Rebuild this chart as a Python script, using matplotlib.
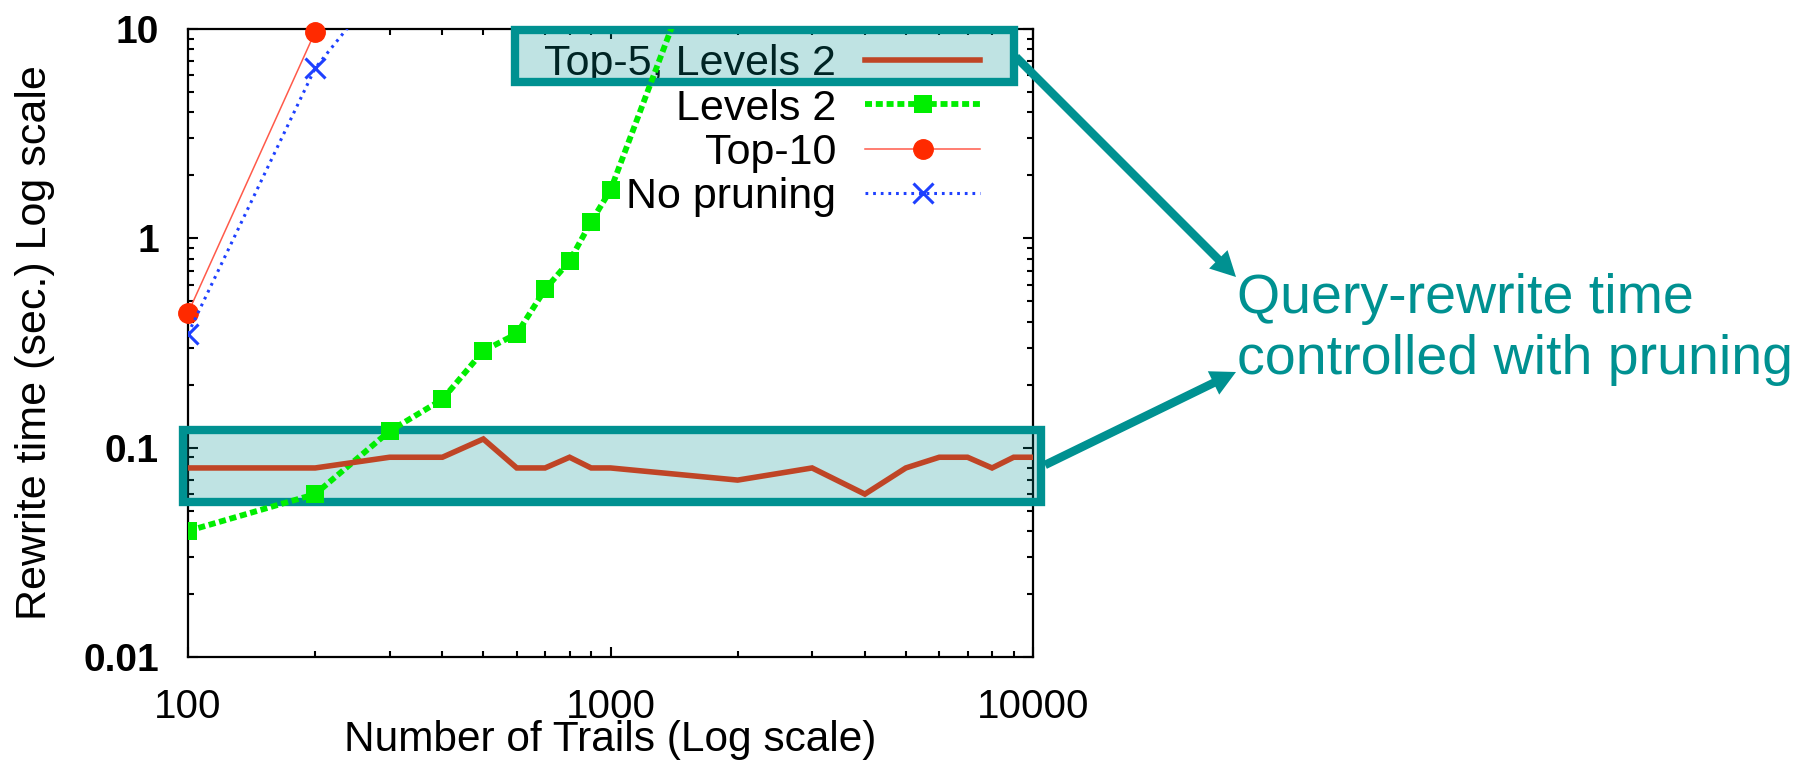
import matplotlib
matplotlib.use("Agg")
import matplotlib.pyplot as plt
import matplotlib.patches as mpatches
from matplotlib.lines import Line2D
from matplotlib.ticker import FixedLocator, FixedFormatter, LogLocator, NullFormatter

# ---- data -------------------------------------------------------------
trails = [100, 200, 300, 400, 500, 600, 700, 800, 900, 1000,
          2000, 3000, 4000, 5000, 6000, 7000, 8000, 9000, 10000]
top5_levels2 = [0.08, 0.08, 0.09, 0.09, 0.11, 0.08, 0.08, 0.09, 0.08, 0.08,
                0.07, 0.08, 0.06, 0.08, 0.09, 0.09, 0.08, 0.09, 0.09]

levels2_trails = [100, 200, 300, 400, 500, 600, 700, 800, 900, 1000, 2000]
levels2 = [0.04, 0.06, 0.12, 0.17, 0.29, 0.35, 0.57, 0.78, 1.2, 1.7, 70]

top10_trails = [100, 200]
top10 = [0.44, 9.7]

nopruning_trails = [100, 200, 300]
nopruning = [0.35, 6.5, 18]

series_labels = ["Top-5, Levels 2", "Levels 2", "Top-10", "No pruning"]
xticks = [100, 1000, 10000]
xtick_labels = ["100", "1000", "10000"]
yticks = [0.01, 0.1, 1, 10]
ytick_labels = ["0.01", "0.1", "1", "10"]
xlabel = "Number of Trails (Log scale)"
ylabel = "Rewrite time (sec.) Log scale"
note_lines = ["Query-rewrite time", "controlled with pruning"]

# ---- styling -----------------------------------------------------------
W, H, DPI = 1804, 761, 100
TEAL = "#009191"
plt.rcParams["font.family"] = ["Liberation Sans", "DejaVu Sans"]

styles = [
    dict(color="#BF4526", lw=4.0, solid_joinstyle="miter"),
    dict(color="#00EE00", lw=4.2, dashes=(1.2, 0.65), marker="s", ms=13, mew=0),
    dict(color="#FF5A4A", lw=1.1, marker="o", ms=14, mfc="#FF2A00", mec="#FF2A00"),
    dict(color="#1E40FF", lw=2.2, dashes=(0.9, 1.6), marker="x", ms=15, mew=2.2),
]


def fx(px):
    return px / W


def fy(py):
    return 1 - py / H


def inch_box(x0, y0, x1, y1):
    """pixel box (origin top-left) -> (xy, w, h) in inches"""
    return (x0 / DPI, (H - y1) / DPI), (x1 - x0) / DPI, (y1 - y0) / DPI


def inch_pt(x, y):
    return x / DPI, (H - y) / DPI


fig = plt.figure(figsize=(W / DPI, H / DPI), dpi=DPI)
ax = fig.add_axes([fx(188), fy(657), fx(1033) - fx(188), fy(29) - fy(657)])

ax.set_xscale("log")
ax.set_yscale("log")
ax.set_xlim(100, 10000)
ax.set_ylim(0.01, 10)

ax.plot(trails, top5_levels2, label=series_labels[0], zorder=8, **styles[0])
ax.plot(levels2_trails, levels2, label=series_labels[1], zorder=7, **styles[1])
ax.plot(top10_trails, top10, label=series_labels[2], zorder=7, clip_on=False,
        **styles[2])
ax.plot(nopruning_trails, nopruning, label=series_labels[3], zorder=7, **styles[3])

# ticks: gnuplot-like, inward on all four sides
ax.xaxis.set_major_locator(FixedLocator(xticks))
ax.xaxis.set_major_formatter(FixedFormatter(xtick_labels))
ax.xaxis.set_minor_locator(LogLocator(base=10, subs=range(2, 10)))
ax.xaxis.set_minor_formatter(NullFormatter())
ax.yaxis.set_major_locator(FixedLocator(yticks))
ax.yaxis.set_major_formatter(FixedFormatter(ytick_labels))
ax.yaxis.set_minor_locator(LogLocator(base=10, subs=range(2, 10)))
ax.yaxis.set_minor_formatter(NullFormatter())

ax.tick_params(which="both", direction="in", top=True, right=True,
               width=1.5, color="black")
ax.tick_params(which="major", length=7.5)
ax.tick_params(which="minor", length=4.5)
ax.tick_params(axis="x", which="major", labelsize=29, pad=22)
ax.tick_params(axis="y", which="major", labelsize=28, pad=21)
for lab in ax.get_yticklabels():
    lab.set_fontweight("bold")
for sp in ax.spines.values():
    sp.set_linewidth(1.6)

ax.set_xlabel(xlabel, fontsize=30.5)
ax.xaxis.set_label_coords(0.5, -0.101)
ax.set_ylabel(ylabel, fontsize=31)
ax.yaxis.set_label_coords(-0.157, 0.5)

# key: label on the left, line sample on the right, one row per series
for i, (label, st) in enumerate(zip(series_labels, styles)):
    yc = 60 + 44.3 * i
    tx, ty = inch_pt(836, yc)
    ax.text(tx, ty, label, transform=fig.dpi_scale_trans, ha="right",
            va="center_baseline", fontsize=31, zorder=5)
    x0, y0 = inch_pt(865, yc)
    x1, _ = inch_pt(980, yc)
    line_st = {k: v for k, v in st.items() if k not in ("marker", "ms", "mew", "mfc", "mec")}
    ax.add_line(Line2D([x0, x1], [y0, y0], transform=fig.dpi_scale_trans,
                       clip_on=False, zorder=7, **line_st))
    if "marker" in st:
        mk = {k: v for k, v in st.items() if k in ("color", "marker", "ms", "mew", "mfc", "mec")}
        ax.add_line(Line2D([(x0 + x1) / 2], [y0], transform=fig.dpi_scale_trans,
                           clip_on=False, zorder=7, linestyle="none", **mk))

# highlight boxes: translucent fill + solid teal frame
for (x0, y0, x1, y1) in [(515, 30, 1014, 82), (183, 430, 1041, 502)]:
    xy, w, h = inch_box(x0, y0, x1, y1)
    ax.add_patch(mpatches.Rectangle(xy, w, h, transform=fig.dpi_scale_trans,
                                    facecolor=TEAL, alpha=0.25, edgecolor="none",
                                    clip_on=False, zorder=5.5))
    ax.add_patch(mpatches.Rectangle(xy, w, h, transform=fig.dpi_scale_trans,
                                    facecolor="none", edgecolor=TEAL, lw=6,
                                    joinstyle="miter", clip_on=False, zorder=5.6))

# callout arrows
for (sx, sy), (tx, ty) in [((1016, 57), (1236, 277)), ((1045, 465), (1236, 372))]:
    x0, y0 = inch_pt(sx, sy)
    x1, y1 = inch_pt(tx, ty)
    fig.add_artist(mpatches.FancyArrow(x0, y0, x1 - x0, y1 - y0, width=0.085,
                                       head_width=0.26, head_length=0.25,
                                       length_includes_head=True, color=TEAL,
                                       lw=0, transform=fig.dpi_scale_trans))

fig.text(fx(1237), fy(313), note_lines[0], fontsize=40, color=TEAL, va="baseline")
fig.text(fx(1237), fy(374), note_lines[1], fontsize=40, color=TEAL, va="baseline")

fig.savefig("out.png", dpi=DPI)
